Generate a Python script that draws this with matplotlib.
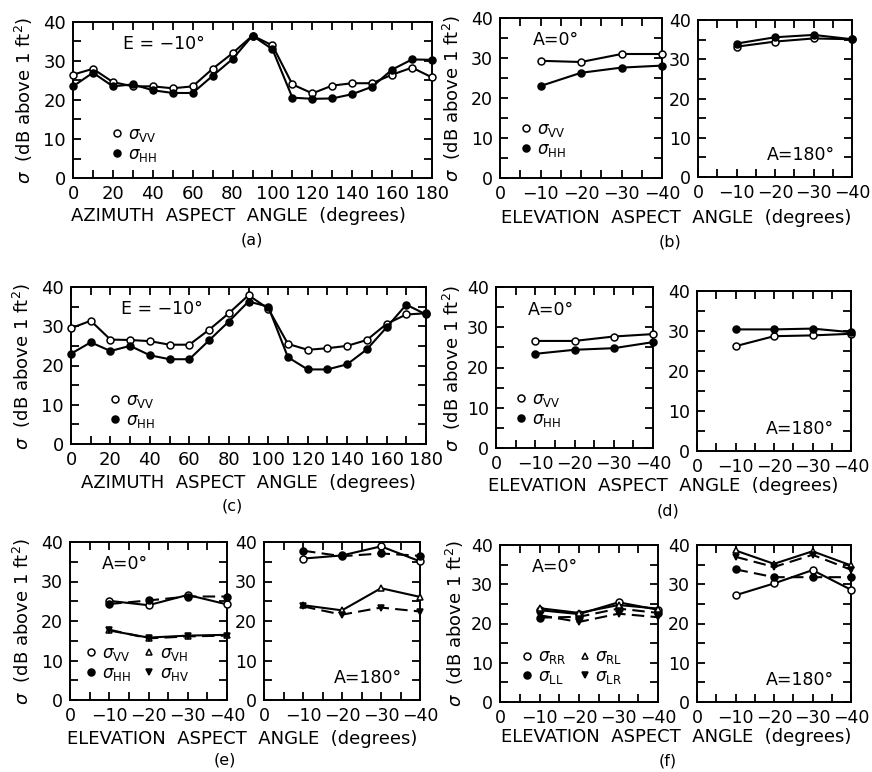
import numpy as np
import matplotlib
matplotlib.use('Agg')
import matplotlib.pyplot as plt
from matplotlib.lines import Line2D
from matplotlib.ticker import MultipleLocator

# --- Data ---
# -----------------------------------------------------------------------------
AZIMUTH = [0, 10, 20, 30, 40, 50, 60, 70, 80, 90, 100, 110, 120, 130, 140, 150, 160, 170, 180]
ELEVATION = [-10, -20, -30, -40]

# (a) linear polarisation, E = -10
a_vv = [26.5, 28.0, 24.6, 23.5, 23.5, 23.0, 23.5, 28.0, 32.0, 36.5, 34.0, 24.0, 21.7, 23.7, 24.3, 24.3, 26.5, 28.3, 25.8]
a_hh = [23.5, 27.0, 23.5, 24.0, 22.5, 21.8, 21.8, 26.2, 30.5, 36.5, 33.0, 20.6, 20.3, 20.4, 21.5, 23.4, 27.8, 30.4, 30.3]

# (b) elevation, A = 0 and A = 180
b0_vv = [29.3, 29.0, 31.0, 31.0]
b0_hh = [23.0, 26.3, 27.6, 28.1]
b180_vv = [33.2, 34.5, 35.3, 35.1]
b180_hh = [34.0, 35.6, 36.2, 35.1]

# (c) second configuration, E = -10
c_vv = [29.5, 31.4, 26.6, 26.5, 26.2, 25.3, 25.3, 29.1, 33.3, 37.9, 34.5, 25.5, 24.0, 24.4, 25.0, 26.5, 30.6, 33.0, 33.3]
c_hh = [23.0, 25.9, 23.7, 25.0, 22.6, 21.6, 21.6, 26.4, 31.2, 36.3, 35.0, 22.1, 19.0, 19.0, 20.3, 24.1, 29.7, 35.5, 33.0]

# (d) elevation
d0_vv = [26.6, 26.6, 27.7, 28.3]
d0_hh = [23.4, 24.4, 24.8, 26.3]
d180_vv = [26.2, 28.7, 28.9, 29.3]
d180_hh = [30.4, 30.4, 30.6, 29.7]

# (e) full linear polarisation matrix
e0_vv = [25.1, 24.0, 26.6, 24.2]
e0_hh = [24.3, 25.2, 26.2, 26.2]
e0_vh = [17.6, 15.8, 16.3, 16.5]
e0_hv = [17.8, 15.6, 16.1, 16.3]
e180_vv = [35.8, 36.6, 38.9, 35.1]
e180_hh = [37.8, 36.4, 37.1, 36.5]
e180_vh = [24.0, 22.7, 28.3, 26.1]
e180_hv = [23.7, 21.6, 23.4, 22.4]

# (f) circular polarisation
f0_rr = [23.4, 22.4, 25.4, 23.5]
f0_ll = [21.5, 21.7, 23.8, 22.7]
f0_rl = [23.9, 22.7, 24.7, 23.8]
f0_lr = [22.1, 20.4, 22.5, 21.6]
f180_rr = [27.2, 30.2, 33.6, 28.6]
f180_ll = [33.8, 31.8, 31.8, 31.8]
f180_rl = [38.6, 35.2, 38.4, 34.8]
f180_lr = [37.0, 34.4, 37.5, 33.7]

# --- Layout helpers (pixel boxes of the reference) ---
# -----------------------------------------------------------------------------
W, H = 872, 772
LW = 1.5
MS = 5


def box(x0, y0, x1, y1):
    return [x0 / W, 1 - y1 / H, (x1 - x0) / W, (y1 - y0) / H]


def ftext(x, y, s, **kw):
    kw.setdefault('fontsize', 11)
    fig.text(x / W, 1 - y / H, s, ha='center', va='center', **kw)


def style_axes(ax, azimuth=False):
    ax.set_ylim(0, 40)
    ax.yaxis.set_major_locator(MultipleLocator(10))
    ax.yaxis.set_minor_locator(MultipleLocator(5))
    if azimuth:
        ax.set_xlim(0, 180)
        ax.xaxis.set_major_locator(MultipleLocator(20))
        ax.xaxis.set_minor_locator(MultipleLocator(10))
    else:
        ax.set_xlim(0, -40)
        ax.xaxis.set_major_locator(MultipleLocator(10))
        ax.xaxis.set_minor_locator(MultipleLocator(5))
    ax.tick_params(which='both', direction='in', top=True, right=True,
                   length=6, width=1.3, labelsize=13 if azimuth else 12.5, pad=5)
    for sp in ax.spines.values():
        sp.set_linewidth(1.4)


def series(ax, x, y, marker='o', filled=False, dashed=False):
    ax.plot(x, y, color='black', lw=LW, ls=(0, (6, 3)) if dashed else '-',
            marker=marker, ms=MS, mec='black', mew=1.1,
            mfc='black' if filled else 'white', clip_on=False, zorder=3)


def handle(marker, filled):
    return Line2D([], [], ls='none', marker=marker, ms=MS, mec='black', mew=1.1,
                  mfc='black' if filled else 'white')


def legend(ax, labels, markers, loc_xy, ncol=1):
    hs = [handle(m, f) for m, f in markers]
    ax.legend(hs, labels, loc='lower left', bbox_to_anchor=loc_xy, ncol=ncol,
              frameon=False, handlelength=0.6, handletextpad=0.35,
              columnspacing=0.8, labelspacing=0.05, fontsize=12,
              borderaxespad=0, borderpad=0)


def sig(sub):
    return r'$\sigma_{\rm ' + sub + '}$'


# --- Figure ---
# -----------------------------------------------------------------------------
fig = plt.figure(figsize=(W / 100, H / 100), dpi=100)

ax_a = fig.add_axes(box(73, 22, 432, 178))
ax_b0 = fig.add_axes(box(500, 18, 662, 178))
ax_b1 = fig.add_axes(box(698, 20, 852, 177))
ax_c = fig.add_axes(box(71, 287, 426, 444))
ax_d0 = fig.add_axes(box(496, 287, 653, 448))
ax_d1 = fig.add_axes(box(697, 291, 851, 451))
ax_e0 = fig.add_axes(box(70, 542, 227, 700))
ax_e1 = fig.add_axes(box(264, 542, 420, 700))
ax_f0 = fig.add_axes(box(500, 545, 658, 702))
ax_f1 = fig.add_axes(box(697, 545, 851, 702))

for ax in [ax_a, ax_c]:
    style_axes(ax, azimuth=True)
for ax in [ax_b0, ax_b1, ax_d0, ax_d1, ax_e0, ax_e1, ax_f0, ax_f1]:
    style_axes(ax)

OPEN, FILL = ('o', False), ('o', True)
UP, DOWN = ('^', False), ('v', True)

# (a) and (c)
for ax, vv, hh in [(ax_a, a_vv, a_hh), (ax_c, c_vv, c_hh)]:
    series(ax, AZIMUTH, vv)
    series(ax, AZIMUTH, hh, filled=True)
    ax.text(0.14, 0.86, 'E = \u221210\u00b0', transform=ax.transAxes, fontsize=12.5, va='center')
    legend(ax, [sig('VV'), sig('HH')], [OPEN, FILL], (0.11, 0.09))

# (b) and (d)
for ax0, ax1, v0, h0, v1, h1 in [(ax_b0, ax_b1, b0_vv, b0_hh, b180_vv, b180_hh),
                                 (ax_d0, ax_d1, d0_vv, d0_hh, d180_vv, d180_hh)]:
    series(ax0, ELEVATION, v0)
    series(ax0, ELEVATION, h0, filled=True)
    series(ax1, ELEVATION, v1)
    series(ax1, ELEVATION, h1, filled=True)
    ax0.text(0.2, 0.86, 'A=0\u00b0', transform=ax0.transAxes, fontsize=12.5, va='center')
    ax1.text(0.45, 0.14, 'A=180\u00b0', transform=ax1.transAxes, fontsize=12.5, va='center')
    legend(ax0, [sig('VV'), sig('HH')], [OPEN, FILL], (0.13, 0.12))

# (e)
series(ax_e0, ELEVATION, e0_vv)
series(ax_e0, ELEVATION, e0_hh, filled=True, dashed=True)
series(ax_e0, ELEVATION, e0_vh, marker='^')
series(ax_e0, ELEVATION, e0_hv, marker='v', filled=True, dashed=True)
series(ax_e1, ELEVATION, e180_vv)
series(ax_e1, ELEVATION, e180_hh, filled=True, dashed=True)
series(ax_e1, ELEVATION, e180_vh, marker='^')
series(ax_e1, ELEVATION, e180_hv, marker='v', filled=True, dashed=True)
ax_e0.text(0.2, 0.86, 'A=0\u00b0', transform=ax_e0.transAxes, fontsize=12.5, va='center')
ax_e1.text(0.45, 0.14, 'A=180\u00b0', transform=ax_e1.transAxes, fontsize=12.5, va='center')
legend(ax_e0, [sig('VV'), sig('HH'), sig('VH'), sig('HV')], [OPEN, FILL, UP, DOWN],
       (0.1, 0.11), ncol=2)

# (f)
series(ax_f0, ELEVATION, f0_rr)
series(ax_f0, ELEVATION, f0_ll, filled=True, dashed=True)
series(ax_f0, ELEVATION, f0_rl, marker='^')
series(ax_f0, ELEVATION, f0_lr, marker='v', filled=True, dashed=True)
series(ax_f1, ELEVATION, f180_rr)
series(ax_f1, ELEVATION, f180_ll, filled=True, dashed=True)
series(ax_f1, ELEVATION, f180_rl, marker='^')
series(ax_f1, ELEVATION, f180_lr, marker='v', filled=True, dashed=True)
ax_f0.text(0.2, 0.86, 'A=0\u00b0', transform=ax_f0.transAxes, fontsize=12.5, va='center')
ax_f1.text(0.45, 0.14, 'A=180\u00b0', transform=ax_f1.transAxes, fontsize=12.5, va='center')
legend(ax_f0, [sig('RR'), sig('LL'), sig('RL'), sig('LR')], [OPEN, FILL, UP, DOWN],
       (0.14, 0.1), ncol=2)

# --- Axis titles and panel letters ---
# -----------------------------------------------------------------------------
YLAB = r'$\sigma$  (dB above 1 ft$^2$)'
for x, y in [(24, 100), (452, 98), (22, 366), (452, 368), (22, 621), (455, 623)]:
    ftext(x, y, YLAB, rotation=90, fontsize=13)

AZ = 'AZIMUTH  ASPECT  ANGLE  (degrees)'
EL = 'ELEVATION  ASPECT  ANGLE  (degrees)'
for x, y in [(238, 216), (248, 483)]:
    ftext(x, y, AZ, fontsize=13)
for x, y in [(676, 218), (663, 486), (242, 739), (676, 737)]:
    ftext(x, y, EL, fontsize=13)

for x, y, s in [(252, 240, '(a)'), (670, 242, '(b)'), (232, 506, '(c)'),
                (668, 511, '(d)'), (225, 760, '(e)'), (668, 761, '(f)')]:
    ftext(x, y, s, fontsize=11.5)

fig.savefig('out.png', dpi=100)
